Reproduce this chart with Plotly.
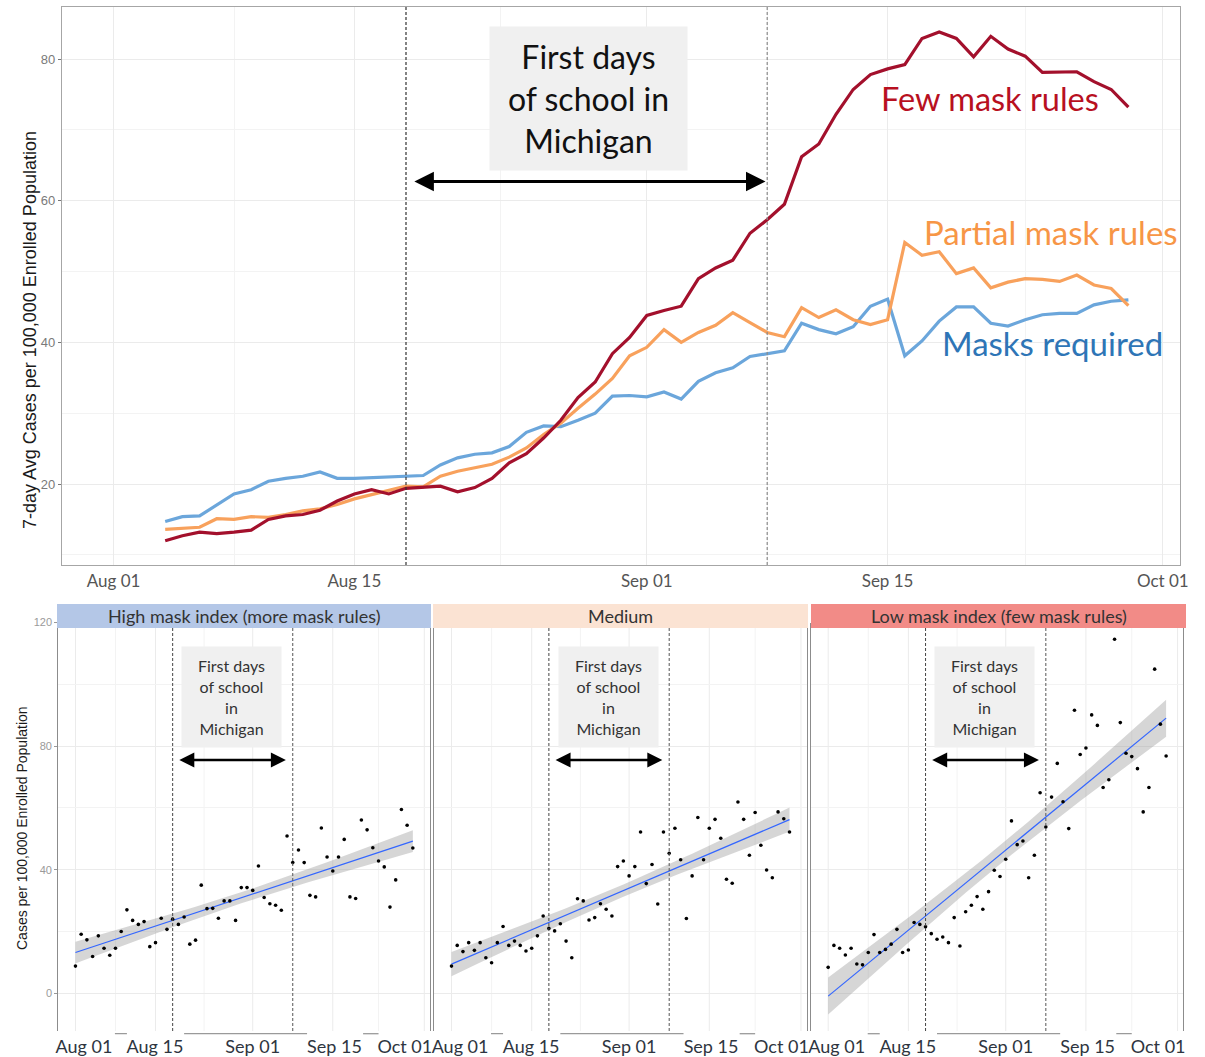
import numpy as np
import pandas as pd
import plotly.graph_objects as go

# ---------------- data ----------------
BASE = pd.Timestamp("2021-08-01")
top_dates = pd.date_range("2021-08-04", "2021-09-29", freq="D")   # 57 days

few_mask = [12.0, 12.7, 13.2, 13.0, 13.2, 13.5, 15.0, 15.5, 15.7, 16.3, 17.6, 18.6, 19.2, 18.6,
            19.4, 19.5, 19.7, 18.9, 19.5, 20.8, 23.0, 24.3, 26.5, 29.0, 32.2, 34.4, 38.4, 40.7,
            43.8, 44.5, 45.1, 49.0, 50.5, 51.6, 55.4, 57.3, 59.5, 66.2, 68.0, 72.2, 75.7, 77.8,
            78.6, 79.2, 82.9, 83.8, 82.9, 80.3, 83.2, 81.4, 80.4, 78.1, 78.1, 78.2, 76.8, 75.7, 73.2]
partial_mask = [13.6, 13.8, 13.9, 15.1, 15.0, 15.4, 15.3, 15.7, 16.2, 16.5, 17.1, 17.9, 18.5, 19.2,
                19.7, 19.6, 21.1, 21.8, 22.3, 22.8, 23.8, 25.1, 27.0, 28.6, 30.7, 32.7, 34.9, 38.1,
                39.3, 41.8, 40.0, 41.4, 42.4, 44.2, 42.8, 41.4, 40.8, 44.9, 43.5, 44.6, 43.2, 42.5,
                43.2, 54.1, 52.3, 52.8, 49.7, 50.5, 47.7, 48.5, 49.0, 48.9, 48.6, 49.5, 48.1, 47.6, 45.2]
masks_required = [14.7, 15.4, 15.5, 17.0, 18.6, 19.2, 20.4, 20.8, 21.1, 21.7, 20.8, 20.8, 20.9, 21.1,
                  21.1, 21.2, 22.7, 23.7, 24.2, 24.4, 25.3, 27.3, 28.2, 28.1, 29.0, 30.0, 32.4, 32.5,
                  32.3, 33.0, 32.0, 34.5, 35.7, 36.4, 38.0, 38.4, 38.8, 42.7, 41.8, 41.2, 42.2, 45.1,
                  46.1, 38.1, 40.2, 43.0, 45.0, 45.0, 42.7, 42.3, 43.2, 43.9, 44.1, 44.1, 45.3, 45.8, 46.0]

bottom_dates = pd.date_range("2021-08-01", "2021-09-29", freq="D")  # 60 days

high_idx = [8.8, 19.1, 17.3, 11.9, 18.6, 14.6, 12.3, 14.6, 20.0, 27.0, 23.6, 22.3, 23.2, 15.1, 16.4,
            24.3, 20.7, 24.0, 22.3, 24.7, 15.9, 17.2, 35.0, 27.4, 27.5, 24.3, 29.9, 29.9, 23.6, 34.2,
            34.2, 33.3, 41.2, 31.0, 29.0, 28.5, 26.9, 50.9, 42.3, 46.4, 42.3, 31.7, 31.2, 53.5, 44.1,
            39.6, 44.1, 49.8, 31.2, 30.7, 56.1, 52.9, 47.1, 42.8, 40.9, 27.9, 36.7, 59.5, 54.4, 47.0]
medium_idx = [8.8, 15.5, 13.5, 16.4, 13.9, 16.4, 11.5, 9.9, 16.4, 21.6, 15.5, 16.9, 15.5, 13.7, 14.6,
              18.6, 25.0, 21.0, 20.2, 22.5, 16.9, 11.5, 30.6, 29.9, 23.7, 24.5, 29.0, 27.2, 25.0, 41.0,
              42.8, 38.0, 41.0, 52.2, 35.5, 41.7, 28.9, 52.2, 45.3, 53.4, 43.2, 24.2, 38.0, 56.9, 43.2,
              53.4, 56.3, 50.2, 36.9, 35.6, 61.9, 56.3, 44.7, 58.5, 47.9, 39.9, 37.4, 58.7, 56.5, 52.2]
low_idx = [8.4, 15.5, 14.6, 12.4, 14.6, 9.5, 9.2, 13.2, 19.0, 13.2, 14.2, 15.9, 20.7, 13.2, 14.0,
           22.9, 22.3, 21.5, 19.3, 17.5, 18.2, 16.4, 24.5, 15.3, 26.4, 28.5, 31.3, 27.2, 32.9, 39.8,
           37.8, 43.4, 55.8, 48.1, 49.3, 37.4, 44.7, 64.9, 53.8, 63.5, 74.4, 62.0, 53.3, 91.6, 77.3,
           79.4, 90.1, 86.7, 66.6, 69.1, 114.6, 87.6, 77.7, 76.6, 72.7, 58.7, 66.6, 104.9, 87.1, 76.8]

panel_titles = ["High mask index (more mask rules)", "Medium", "Low mask index (few mask rules)"]
strip_colors = ["#B4C7E7", "#FBE3D3", "#F28B87"]
tick_labels = ["Aug 01", "Aug 15", "Sep 01", "Sep 15", "Oct 01"]
tick_days = [0, 14, 31, 45, 61]


def at(day):
    return (BASE + pd.Timedelta(days=day)).strftime("%Y-%m-%d %H:%M:%S")


fig = go.Figure()

# ---------------- top chart ----------------
RED_L, ORG_L, BLU_L = "#A3102C", "#F8A15C", "#6BA6DB"
for vals, col in [(masks_required, BLU_L), (partial_mask, ORG_L), (few_mask, RED_L)]:
    fig.add_trace(go.Scatter(x=top_dates, y=vals, mode="lines",
                             line=dict(color=col, width=3.2), showlegend=False,
                             xaxis="x", yaxis="y"))

# ---------------- bottom facets ----------------
CALI = "Lato, 'Noto Sans', sans-serif"
days = np.arange(len(bottom_dates), dtype=float)
for i, vals in enumerate([high_idx, medium_idx, low_idx]):
    xa, ya = f"x{i+2}", f"y{i+2}"
    v = np.array(vals)
    b1, b0 = np.polyfit(days, v, 1)
    fit = b0 + b1 * days
    n = len(days)
    resid = v - fit
    s = np.sqrt(np.sum(resid ** 2) / (n - 2))
    sxx = np.sum((days - days.mean()) ** 2)
    se = s * np.sqrt(1 / n + (days - days.mean()) ** 2 / sxx)
    t = 2.0017
    up, lo = fit + t * se, fit - t * se
    fig.add_trace(go.Scatter(x=list(bottom_dates) + list(bottom_dates[::-1]),
                             y=list(up) + list(lo[::-1]), fill="toself",
                             fillcolor="rgba(153,153,153,0.4)", line=dict(width=0),
                             mode="lines", hoverinfo="skip", showlegend=False,
                             xaxis=xa, yaxis=ya))
    fig.add_trace(go.Scatter(x=bottom_dates, y=fit, mode="lines",
                             line=dict(color="#3366FF", width=1.2), showlegend=False,
                             xaxis=xa, yaxis=ya))
    fig.add_trace(go.Scatter(x=bottom_dates, y=vals, mode="markers",
                             marker=dict(color="black", size=3.6), showlegend=False,
                             xaxis=xa, yaxis=ya))

# ---------------- layout ----------------
W, H = 1205, 1057


def px_x(p):
    return p / W


def px_y(p):
    return 1 - p / H


grid = "#EBEBEB"
xrange = [at(-3), at(62)]
minor_x = [at(7), at(22.5), at(38), at(53)]

layout = dict(
    width=W, height=H, margin=dict(l=0, r=0, t=0, b=0, autoexpand=False),
    paper_bgcolor="white", plot_bgcolor="white", showlegend=False,
    xaxis=dict(domain=[px_x(62), px_x(1180)], anchor="y", type="date", range=xrange,
               automargin=False,
               tickmode="array", tickvals=[at(d) for d in tick_days], ticktext=tick_labels,
               showgrid=True, gridcolor=grid, gridwidth=1,
               minor=dict(tickvals=minor_x, showgrid=True, gridcolor="#F3F3F3", gridwidth=1),
               showline=True, mirror=True, linecolor="#A6A6A6", linewidth=1.2, ticks="",
               tickfont=dict(family=CALI, size=17, color="#555555"), zeroline=False),
    yaxis=dict(domain=[px_y(565), px_y(7)], anchor="x", range=[8.57, 87.34],
               automargin=False,
               tickmode="array", tickvals=[20, 40, 60, 80],
               showgrid=True, gridcolor=grid, gridwidth=1,
               minor=dict(tickvals=[10, 30, 50, 70], showgrid=True, gridcolor="#F3F3F3"),
               showline=True, mirror=True, linecolor="#A6A6A6", linewidth=1.2,
               ticks="outside", ticklen=3, tickcolor="#777777",
               tickfont=dict(family="Liberation Sans, Arial", size=13, color="#7A7A7A"),
               zeroline=False),
)

panel_px = [(58.3, 430.0), (434.3, 806.7), (811.0, 1183.3)]
strip_px = [(57, 431), (433, 808), (811, 1186)]
lab_days = [1.5, 13.9, 31.0, 45.3, 57.6]
for i, (x0, x1) in enumerate(panel_px):
    k = i + 2
    layout[f"xaxis{k}"] = dict(
        domain=[px_x(x0), px_x(x1)], anchor=f"y{k}", type="date", range=xrange,
        automargin=False, ticklabelstandoff=3,
        tickmode="array", tickvals=[at(d) for d in lab_days], ticktext=tick_labels,
        showgrid=False, showline=False, ticks="", zeroline=False,
        tickfont=dict(family=CALI, size=18, color="#2E3540"))
    layout[f"yaxis{k}"] = dict(
        domain=[px_y(1031), px_y(622.5)], anchor=f"x{k}", range=[-12.2, 120],
        automargin=False,
        tickmode="array", tickvals=[0, 40, 80, 120], showgrid=True, gridcolor=grid,
        minor=dict(tickvals=[20, 60, 100], showgrid=True, gridcolor="#F3F3F3"),
        showline=True, mirror=True, linecolor="#8C8C8C", linewidth=1.2, zeroline=False,
        ticks="outside" if i == 0 else "", ticklen=3, tickcolor="#999999",
        showticklabels=(i == 0),
        tickfont=dict(family="Liberation Sans, Arial", size=11, color="#9A9A9A"))
    if i > 0:
        layout[f"yaxis{k}"]["matches"] = "y2"

fig.update_layout(**layout)

# bottom vertical grid lines drawn as shapes (under data)
shapes = []
for i in range(3):
    k = i + 2
    for d, c in [(0, grid), (14, grid), (31, grid), (45, grid), (61, grid),
                 (7, "#F3F3F3"), (22.5, "#F3F3F3"), (53, "#F3F3F3")]:
        shapes.append(dict(type="line", xref=f"x{k}", yref=f"y{k} domain", x0=at(d), x1=at(d),
                           y0=0, y1=1, line=dict(color=c, width=1), layer="below"))

# dashed "first days" lines
shapes.append(dict(type="line", xref="x", yref="y domain", x0=at(17), x1=at(17), y0=0, y1=1,
                   line=dict(color="#333333", width=1.2, dash="3px,2px")))
shapes.append(dict(type="line", xref="x", yref="y domain", x0=at(38), x1=at(38), y0=0, y1=1,
                   line=dict(color="#8A8A8A", width=1.2, dash="3px,2px")))
for i in range(3):
    k = i + 2
    for d, c in [(17, "#444444"), (38, "#555555")]:
        shapes.append(dict(type="line", xref=f"x{k}", yref=f"y{k} domain", x0=at(d), x1=at(d),
                           y0=0, y1=1, line=dict(color=c, width=1, dash="3px,2px")))
    # residual axis fragments under the panels
    for a, b in [(6.9, 9.0), (19.0, 40.5), (50.3, 53.0)]:
        shapes.append(dict(type="line", xref=f"x{k}", yref="paper", x0=at(a), x1=at(b),
                           y0=px_y(1033.7), y1=px_y(1033.7),
                           line=dict(color="#9A9A9A", width=1.3)))
    # strips
    s0, s1 = strip_px[i]
    shapes.append(dict(type="rect", xref="paper", yref="paper", x0=px_x(s0), x1=px_x(s1),
                       y0=px_y(628), y1=px_y(604), fillcolor=strip_colors[i],
                       line=dict(width=0), layer="above"))
fig.update_layout(shapes=shapes)

ann = []
# top labels
ann.append(dict(xref="x", yref="y", x=at(27.62), y=74.43, text="First days<br>of school in<br>Michigan",
                showarrow=False, bgcolor="#F0F0F0", width=197, height=143, borderpad=0,
                font=dict(family=CALI, size=32, color="#111111"), xanchor="center", yanchor="middle"))
ann.append(dict(xref="x", yref="y", x=at(37.9), y=62.7, ax=at(17.4), ay=62.7, axref="x", ayref="y",
                text="", showarrow=True, arrowside="end+start", arrowhead=2, arrowsize=1.3,
                arrowwidth=3, arrowcolor="black", standoff=0, startstandoff=0))
ann.append(dict(xref="x", yref="y", x=at(50.93), y=74.36, text="Few mask rules", showarrow=False,
                font=dict(family=CALI, size=32.5, color="#B8101F"), xanchor="center", yanchor="middle"))
ann.append(dict(xref="x", yref="y", x=at(54.5), y=55.6, text="Partial mask rules", showarrow=False,
                font=dict(family=CALI, size=33, color="#F79646"), xanchor="center", yanchor="middle"))
ann.append(dict(xref="x", yref="y", x=at(54.6), y=39.9, text="Masks required", showarrow=False,
                font=dict(family=CALI, size=33, color="#2E75B6"), xanchor="center", yanchor="middle"))
# y titles
ann.append(dict(xref="paper", yref="paper", x=px_x(30), y=px_y(330),
                text="7-day Avg Cases per 100,000 Enrolled Population", showarrow=False, textangle=-90,
                font=dict(family="Liberation Sans, Arial", size=18, color="#1A1A1A"),
                xanchor="center", yanchor="middle"))
ann.append(dict(xref="paper", yref="paper", x=px_x(22), y=px_y(828),
                text="Cases per 100,000 Enrolled Population", showarrow=False, textangle=-90,
                font=dict(family="Liberation Sans Narrow, Arial Narrow, Liberation Sans", size=14,
                          color="#1A1A1A"),
                xanchor="center", yanchor="middle"))
for i in range(3):
    k = i + 2
    s0, s1 = strip_px[i]
    ann.append(dict(xref="paper", yref="paper", x=px_x((s0 + s1) / 2), y=px_y(616),
                    text=panel_titles[i], showarrow=False,
                    font=dict(family=CALI, size=18, color="#333333"),
                    xanchor="center", yanchor="middle"))
    ann.append(dict(xref=f"x{k}", yref=f"y{k}", x=at(27.35), y=95.8,
                    text="First days<br>of school<br>in<br>Michigan", showarrow=False,
                    bgcolor="#F0F0F0", width=99, height=100, borderpad=0,
                    font=dict(family=CALI, size=16, color="#333333"),
                    xanchor="center", yanchor="middle"))
    ann.append(dict(xref=f"x{k}", yref=f"y{k}", x=at(36.8), y=75.5, ax=at(17.9), ay=75.5,
                    axref=f"x{k}", ayref=f"y{k}", text="", showarrow=True, arrowside="end+start",
                    arrowhead=2, arrowsize=1.2, arrowwidth=2.5, arrowcolor="black",
                    standoff=0, startstandoff=0))
fig.update_layout(annotations=ann)

fig.write_html("out.html", config={"displayModeBar": False},
               post_script="document.body.style.margin='0';")
